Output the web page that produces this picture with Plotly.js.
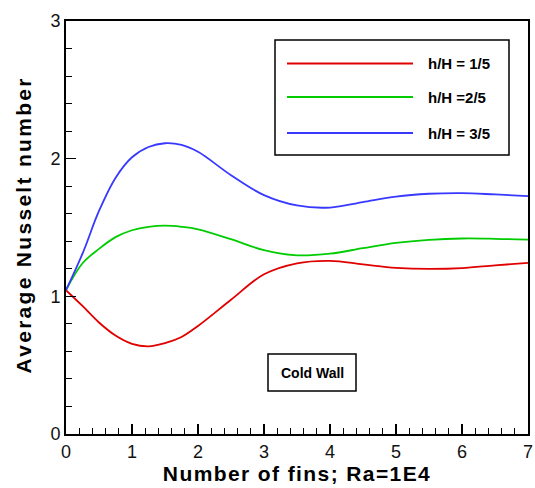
<!DOCTYPE html>
<html>
<head>
<meta charset="utf-8">
<script src="https://cdn.plot.ly/plotly-3.0.1.min.js"></script>
<style>
html,body{margin:0;padding:0;background:#fff;}
#chart{width:535px;height:488px;}
text.xtitle{letter-spacing:1.4px;}
</style>
</head>
<body>
<div id="chart"></div>
<script>
const finCount = [0, 0.25, 0.5, 0.75, 1, 1.25, 1.5, 1.75, 2, 2.5, 3, 3.5, 4, 4.5, 5, 5.5, 6, 6.5, 7];
const nuH1 = [1.045, 0.93, 0.81, 0.715, 0.655, 0.637, 0.66, 0.705, 0.785, 0.975, 1.16, 1.24, 1.258, 1.232, 1.207, 1.199, 1.205, 1.225, 1.243];
const nuH2 = [1.045, 1.24, 1.345, 1.43, 1.48, 1.505, 1.513, 1.505, 1.487, 1.415, 1.335, 1.298, 1.31, 1.35, 1.388, 1.41, 1.42, 1.418, 1.412];
const nuH3 = [1.045, 1.31, 1.62, 1.86, 2.01, 2.085, 2.112, 2.10, 2.05, 1.88, 1.735, 1.66, 1.645, 1.685, 1.725, 1.745, 1.75, 1.74, 1.728];
const seriesNames = ['h/H = 1/5', 'h/H =2/5', 'h/H = 3/5'];
const seriesColors = ['#e00000', '#00cc00', '#3838ff'];
const xTicks = [0, 1, 2, 3, 4, 5, 6, 7];
const yTicks = [0, 1, 2, 3];

const FONT = 'Arial, "Liberation Sans", sans-serif';
const series = [nuH1, nuH2, nuH3];
const traces = series.map((ys, i) => ({
  x: finCount, y: ys, type: 'scatter', mode: 'lines', name: seriesNames[i],
  line: {color: seriesColors[i], width: 1.8, shape: 'spline', smoothing: 1},
  showlegend: false, hoverinfo: 'skip'
}));

// custom legend (paper coordinates)
const shapes = [
  {type: 'rect', xref: 'paper', yref: 'paper', x0: (275-66)/462, x1: (509-66)/462,
   y0: (434-155)/413, y1: (434-40)/413, line: {color: '#000', width: 1.5}, fillcolor: '#fff'},
  {type: 'rect', xref: 'paper', yref: 'paper', x0: (268-66)/462, x1: (356-66)/462,
   y0: (434-391)/413, y1: (434-354)/413, line: {color: '#000', width: 1.5}}
];
const annotations = [];
const rowY = [63.5, 97, 133];
seriesNames.forEach((n, i) => {
  const yp = (434 - rowY[i]) / 413;
  shapes.push({type: 'line', xref: 'paper', yref: 'paper', x0: (287-66)/462, x1: (413-66)/462,
    y0: yp, y1: yp, line: {color: seriesColors[i], width: 1.8}});
  annotations.push({xref: 'paper', yref: 'paper', x: (426-66)/462, y: yp, xanchor: 'left', yanchor: 'middle',
    text: '<b>' + n + '</b>', showarrow: false, font: {family: FONT, size: 15, color: '#000'}});
});
annotations.push({xref: 'paper', yref: 'paper', x: (312-66)/462, y: (434-372.5)/413, xanchor: 'center', yanchor: 'middle',
  text: '<b>Cold Wall</b>', showarrow: false, font: {family: FONT, size: 14, color: '#000'}});
// y-axis title
annotations.push({xref: 'paper', yref: 'paper', x: (23-66)/462, y: (434-225.5)/413, xanchor: 'center', yanchor: 'middle',
  textangle: -90, text: '<b><span style="letter-spacing:2.3px">Average Nusselt number</span></b>', showarrow: false,
  font: {family: FONT, size: 21, color: '#000'}});

const layout = {
  width: 535, height: 488,
  margin: {l: 66, r: 7, t: 21, b: 54},
  paper_bgcolor: '#fff', plot_bgcolor: '#fff',
  font: {family: FONT, color: '#000'},
  showlegend: false,
  xaxis: {
    range: [0, 7], tickvals: xTicks, ticktext: xTicks.map(String),
    showgrid: false, zeroline: false, showline: true, linecolor: '#000', linewidth: 2, mirror: true,
    ticks: 'inside', ticklen: 10, tickwidth: 1.5, tickcolor: '#000',
    minor: {dtick: 0.2, ticks: 'inside', ticklen: 6, tickwidth: 1, tickcolor: '#000', showgrid: false},
    tickfont: {family: FONT, size: 18, color: '#111'},
    title: {text: '<b>Number of fins; Ra=1E4</b>', font: {family: FONT, size: 21, color: '#000'}, standoff: 4}
  },
  yaxis: {
    range: [0, 3], tickvals: yTicks, ticktext: yTicks.map(String),
    showgrid: false, zeroline: false, showline: true, linecolor: '#000', linewidth: 2, mirror: true,
    ticks: 'inside', ticklen: 10, tickwidth: 1.5, tickcolor: '#000',
    minor: {dtick: 0.2, ticks: 'inside', ticklen: 6, tickwidth: 1, tickcolor: '#000', showgrid: false},
    tickfont: {family: FONT, size: 18, color: '#111'}
  },
  shapes: shapes,
  annotations: annotations
};
Plotly.newPlot('chart', traces, layout, {displayModeBar: false, staticPlot: true});
</script>
</body>
</html>
